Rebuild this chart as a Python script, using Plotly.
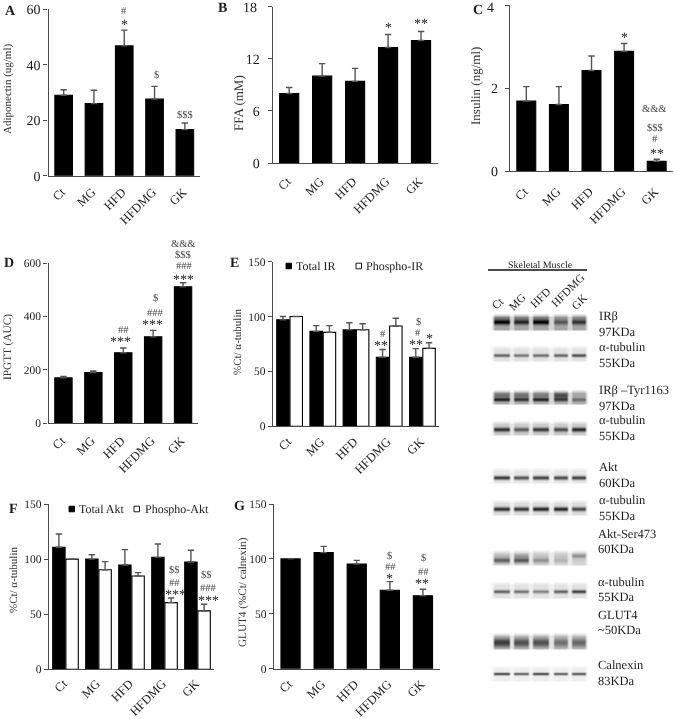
import numpy as np
import plotly.graph_objects as go

W, H = 675, 719
FONT = "Liberation Serif"
INK = "#1c1c1c"
AXIS = "#4a4a4a"

categories = ["Ct", "MG", "HFD", "HFDMG", "GK"]

adiponectin = [29, 26, 46.8, 27.6, 16.6]
adiponectin_err = [2, 4.8, 5.7, 4.6, 2.4]
ffa = [8, 10, 9.4, 13.3, 14.1]
ffa_err = [0.7, 1.45, 1.5, 1.5, 1.05]
insulin = [1.69, 1.61, 2.43, 2.89, 0.24]
insulin_err = [0.35, 0.43, 0.35, 0.19, 0.05]
ipgtt = [170, 190, 264, 324, 511]
ipgtt_err = [5, 6, 18, 24, 15]
total_ir = [97, 86.5, 88, 62.9, 62.9]
total_ir_err = [3, 5.2, 6.4, 7.1, 7.9]
phospho_ir = [100, 85.6, 88, 91.4, 71]
phospho_ir_err = [0, 6.1, 5.5, 7, 5.2]
total_akt = [110.7, 100, 94.6, 101.6, 97.4]
total_akt_err = [12.1, 4, 14, 12.1, 10.6]
phospho_akt = [100, 90.4, 84.7, 60.5, 53]
phospho_akt_err = [0, 7.3, 3, 4.2, 6]
glut4 = [100, 105.7, 95.3, 71.4, 66.5]
glut4_err = [0, 5.7, 3.4, 7.9, 5.8]

# panel: box (left, right, top, bottom) px, y max, ticks, tick font, label stand-offs
panels = [
    dict(box=(48.5, 200, 9.3, 175.7), ymax=60, ticks=[0, 20, 40, 60], labels=["0", "20", "40", "60"], tf=14,
         xstand=3, ystand=0, series=[(adiponectin, adiponectin_err, "black")]),
    dict(box=(272.7, 437.5, 6.7, 163), ymax=18, ticks=[0, 6, 12, 18], labels=["0", "6", "12", ""], tf=14,
         xstand=5, ystand=5, series=[(ffa, ffa_err, "black")]),
    dict(box=(510, 673, 5.3, 171.3), ymax=4, ticks=[0, 2, 4], labels=["0", "2", ""], tf=14,
         xstand=7, ystand=4, series=[(insulin, insulin_err, "black")]),
    dict(box=(48.5, 198, 263, 423.3), ymax=600, ticks=[0, 200, 400, 600], labels=["0", "200", "400", "600"], tf=11.5,
         xstand=4, ystand=0, series=[(ipgtt, ipgtt_err, "black")]),
    dict(box=(273, 439, 261.7, 426.3), ymax=150, ticks=[0, 50, 100, 150], labels=["0", "50", "100", "150"], tf=11.5,
         xstand=2, ystand=0, series=[(total_ir, total_ir_err, "black"), (phospho_ir, phospho_ir_err, "white")]),
    dict(box=(49, 214, 504, 669.3), ymax=150, ticks=[0, 50, 100, 150], labels=["0", "50", "100", "150"], tf=11.5,
         xstand=1, ystand=0, series=[(total_akt, total_akt_err, "black"), (phospho_akt, phospho_akt_err, "white")]),
    dict(box=(274, 439.5, 504, 668.7), ymax=150, ticks=[0, 50, 100, 150], labels=["0", "50", "100", "150"], tf=11.5,
         xstand=2, ystand=0, series=[(glut4, glut4_err, "black")]),
]

edge_tick_labels = [("18", 259, 7), ("4", 496, 7)]

panel_letters = [("A", 3, 10), ("B", 216, 7), ("C", 471, 9), ("D", 2, 262),
                 ("E", 228, 262), ("F", 7, 508), ("G", 232, 505)]

y_titles = [("Adiponectin (ug/ml)", 7, 89, 11), ("FFA (mM)", 238, 103, 13),
            ("Insulin (ng/ml)", 475, 86, 13), ("IPGTT (AUC)", 7, 347, 11.3),
            ("%Ct/ α-tubulin", 237, 342, 11), ("%Ct/ α-tubulin", 13, 580, 11),
            ("GLUT4 (%Ct/ calnexin)", 242, 592, 11.2)]

sig_marks = [
    ("#", 124, 10), ("*", 124, 23), ("$", 156, 74), ("$$$", 185, 114),
    ("*", 388, 26), ("**", 421, 22),
    ("*", 624, 36), ("&&&", 654, 108), ("$$$", 655, 127), ("#", 655, 138), ("**", 657, 152),
    ("&&&", 183, 243), ("$$$", 183, 254), ("###", 184, 265), ("***", 183, 278),
    ("$", 155, 297), ("###", 155, 312), ("***", 152, 323), ("##", 123, 329), ("***", 120, 340),
    ("#", 383, 333), ("**", 381, 344), ("$", 418, 321), ("#", 418, 332), ("**", 416, 343), ("*", 429, 337),
    ("$$", 174, 569), ("##", 174, 582), ("***", 175, 593), ("$$", 206, 574), ("###", 208, 587), ("***", 208, 599),
    ("$", 389, 555), ("##", 390, 566), ("*", 389, 577), ("$", 423, 557), ("##", 423, 571), ("**", 422, 582),
]

legend_items = [("black", "Total IR", 286, 266, 294), ("white", "Phospho-IR", 356, 266, 364),
                ("black", "Total Akt", 69, 509, 77), ("white", "Phospho-Akt", 134, 509, 143)]

blot_labels = [
    ("IRβ", 597, 316), ("97KDa", 597, 332), ("α-tubulin", 597, 347), ("55KDa", 597, 363),
    ("IRβ –Tyr1163", 597, 390), ("97KDa", 597, 406), ("α-tubulin", 597, 420), ("55KDa", 597, 436),
    ("Akt", 597, 467), ("60KDa", 597, 483), ("α-tubulin", 597, 500), ("55KDa", 597, 516),
    ("Akt-Ser473", 596, 534), ("60KDa", 596, 549), ("α-tubulin", 596, 582), ("55KDa", 596, 597),
    ("GLUT4", 596, 615), ("~50KDa", 596, 630), ("Calnexin", 596, 665), ("83KDa", 596, 681),
]
lane_labels = [("Ct", 498, 303), ("MG", 517, 302), ("HFD", 540, 298), ("HFDMG", 568, 290), ("GK", 579, 302)]

lanes_px = [(493, 509), (513, 528), (532, 548), (553, 567), (571, 585)]
# top, bottom, background grey, bands: (relative pos, sigma px, darkness per lane)
blots = [
    (316, 329, 165, [(0.42, 1.5, [.78, .60, .78, .40, .55]), (0.2, 2.5, [.28, .25, .28, .12, .2])]),
    (348, 360, 226, [(0.55, 1.0, [.75, .65, .70, .75, .90])]),
    (392, 403, 175, [(0.62, 1.1, [.75, .65, .75, .55, .40]), (0.25, 2.4, [.35, .35, .28, .55, .05])]),
    (423, 434, 205, [(0.52, 1.4, [.90, .65, .85, .75, .95])]),
    (470, 482, 232, [(0.58, 1.3, [1.0, .85, .95, .90, .95])]),
    (502, 514, 222, [(0.52, 1.4, [1.0, .95, 1.05, 1.05, .85])]),
    (552, 564, 215, [(0.62, 1.8, [.65, .70, .38, .20, .05]), (0.25, 1.5, [.15, .30, .08, .08, .40])]),
    (584, 597, 226, [(0.52, 1.1, [.75, .65, .55, .75, .95])]),
    (635, 648, 205, [(0.52, 3.4, [.80, .68, .68, .50, .55])]),
    (668, 680, 238, [(0.42, 0.8, [1.05, .90, 1.05, .90, .95])]),
]


def xd(l, r):
    return [l / W, r / W]


def yd(t, b):
    return [1 - b / H, 1 - t / H]


fig = go.Figure()
layout = dict(width=W, height=H, autosize=False, margin=dict(l=0, r=0, t=0, b=0, pad=0),
              template="none",
              paper_bgcolor="white", plot_bgcolor="rgba(0,0,0,0)", showlegend=False,
              barmode="group", bargroupgap=0, font=dict(family=FONT, color=INK))

for i, p in enumerate(panels):
    n = i + 1
    suffix = "" if n == 1 else str(n)
    l, r, t, b = p["box"]
    two = len(p["series"]) == 2
    for vals, errs, col in p["series"]:
        fig.add_trace(go.Bar(
            x=list(range(5)), y=vals, width=0.375 if two else 0.58, offsetgroup=col,
            marker=dict(color=col, line=dict(color="black", width=1.1)),
            error_y=dict(type="data", symmetric=False, array=errs, arrayminus=[0] * 5,
                         color="#555555", thickness=1.4, width=3.2),
            xaxis="x" + suffix, yaxis="y" + suffix))
    layout["xaxis" + suffix] = dict(
        domain=xd(l, r), range=[-0.5, 4.5], tickmode="array", tickvals=list(range(5)),
        ticktext=categories, tickangle=-45, ticks="", showgrid=False, zeroline=False, automargin=False,
        ticklabelstandoff=p["xstand"], ticklabelshift=-2,
        showline=True, linecolor=AXIS, linewidth=1.3, tickfont=dict(family=FONT, size=12.5, color=INK),
        anchor="y" + suffix)
    layout["yaxis" + suffix] = dict(
        domain=yd(t, b), range=[0, p["ymax"]], tickmode="array", tickvals=p["ticks"], ticktext=p["labels"],
        automargin=False, ticklabelstandoff=p["ystand"],
        ticks="outside", ticklen=4, tickwidth=1.2, tickcolor=AXIS, showgrid=False, zeroline=False,
        showline=True, linecolor=AXIS, linewidth=1.3, tickfont=dict(family=FONT, size=p["tf"], color=INK),
        anchor="x" + suffix)

# full-page overlay in pixel coordinates for labels and blots
layout["xaxis8"] = dict(domain=[0, 1], range=[0, W], visible=False, fixedrange=True, anchor="y8", automargin=False)
layout["yaxis8"] = dict(domain=[0, 1], range=[H, 0], visible=False, fixedrange=True, anchor="x8", automargin=False)

annotations = []
shapes = []


def txt(text, x, y, size, xanchor="center", angle=0, bold=False, color=INK):
    annotations.append(dict(text=f"<b>{text}</b>" if bold else text, x=x, y=y, xref="x8", yref="y8",
                            showarrow=False, xanchor=xanchor, yanchor="middle", textangle=angle,
                            font=dict(family=FONT, size=size, color=color)))


for s, x, y in edge_tick_labels:
    txt(s, x, y, 14, xanchor="right")
for s, x, y in panel_letters:
    txt(s, x, y, 14, xanchor="left", bold=True)
for s, x, y, size in y_titles:
    txt(s, x, y, size, angle=-90, color="#333333")
for s, x, y in sig_marks:
    if "*" in s:
        txt(s, x, y + 1.5, 14, color="#222222")
    else:
        txt(s, x, y, 10.5, color="#444444")
for col, s, x, y, tx in legend_items:
    shapes.append(dict(type="rect", xref="x8", yref="y8", x0=x, x1=x + 5.5, y0=y - 2.8, y1=y + 2.8,
                       fillcolor=col, line=dict(color="black", width=0.9)))
    txt(s, tx, y, 12, xanchor="left")
for s, x, y in blot_labels:
    txt(s, x, y, 12.5, xanchor="left")
for s, x, y in lane_labels:
    txt(s, x, y, 11.5, angle=-45)
txt("Skeletal Muscle", 540, 264, 10)
shapes.append(dict(type="line", xref="x8", yref="y8", x0=488, x1=587, y0=270, y1=270,
                   line=dict(color="#111111", width=1.3)))

# western blots drawn as greyscale heatmaps
xs = np.arange(491, 588)
for top, bottom, bg, bands in blots:
    ys = np.arange(top - 1, bottom + 2)
    z = np.full((len(ys), len(xs)), 250.0)
    for li, (a, c) in enumerate(lanes_px):
        lane_col = np.clip(np.minimum(xs - a + 1, c - xs + 1) / 2.0, 0, 1)
        for bi, yy in enumerate(ys):
            edge = 1.0 if top <= yy <= bottom else 0.4
            d = 250.0 - bg
            for pos, sig, dark in bands:
                d += dark[li] * 185 * np.exp(-((yy - (top + pos * (bottom - top))) ** 2) / (2 * sig ** 2))
            z[bi] = np.minimum(z[bi], 250.0 - d * edge * lane_col)
    backdrop = 250.0 - 0.45 * (250.0 - bg)
    inside = (ys >= top) & (ys <= bottom)
    sel = np.ix_(inside, (xs >= 492) & (xs <= 586))
    z[sel] = np.minimum(z[sel], backdrop)
    fig.add_trace(go.Heatmap(x=xs, y=ys, z=np.clip(z, 0, 255), zmin=0, zmax=255,
                             colorscale=[[0, "black"], [1, "white"]], showscale=False,
                             zsmooth="best", xaxis="x8", yaxis="y8", hoverinfo="skip"))

layout["annotations"] = annotations
layout["shapes"] = shapes
fig.update_layout(**layout)
fig.write_html("out.html", config={"displayModeBar": False},
               post_script="document.body.style.margin='0';document.body.style.textRendering='geometricPrecision';"
                           "document.getElementsByClassName('plotly-graph-div')[0].style.filter='grayscale(1) blur(0.35px)';")
